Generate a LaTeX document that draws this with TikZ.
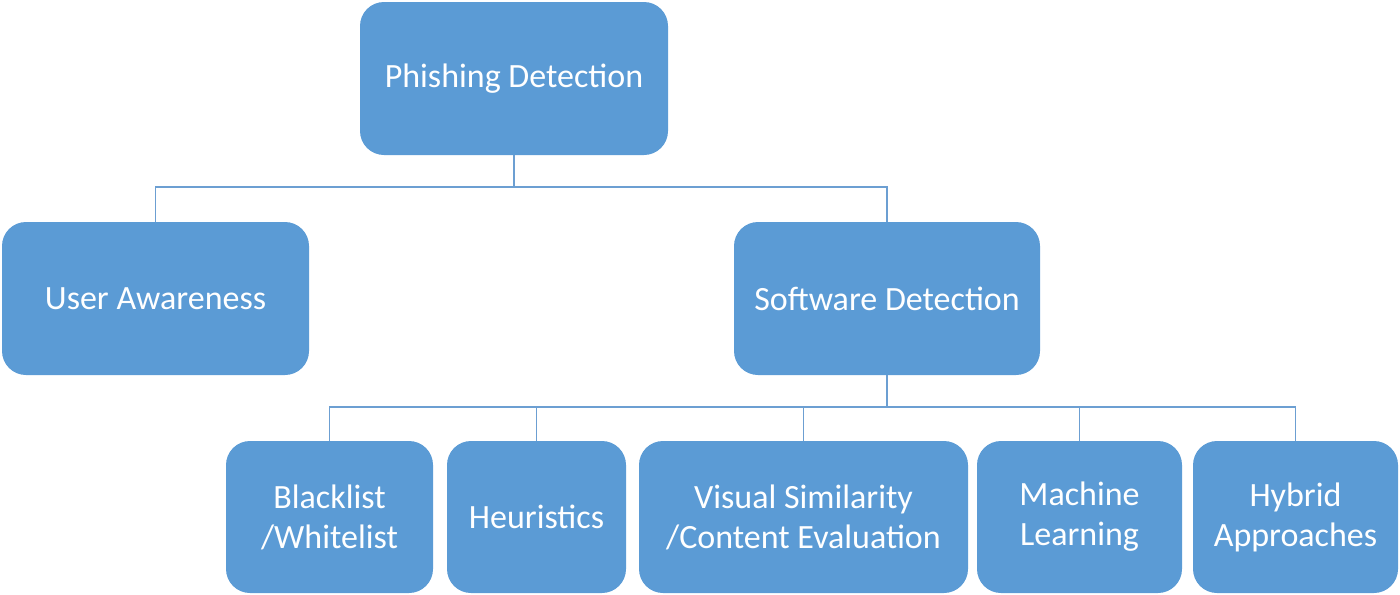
\documentclass[tikz,border=0pt]{standalone}
\usepackage{fontspec}
\setmainfont{Carlito}
\definecolor{boxblue}{HTML}{5B9BD5}
\definecolor{linkblue}{HTML}{6C9FD2}
\begin{document}
\begin{tikzpicture}[x=0.5pt,y=-0.5pt,
  box/.style={rectangle, rounded corners=12pt, fill=boxblue, draw=none,
    text=white, inner sep=0pt, align=center,
    font=\fontsize{17pt}{20pt}\selectfont},
  link/.style={draw=linkblue, line width=0.8pt}]
\useasboundingbox (0,0) rectangle (1400,594);

% top level
\node[box, minimum width=154pt, minimum height=76.5pt] (pd) at (514,78.5) {Phishing Detection};

% second level
\node[box, minimum width=153.5pt, minimum height=76.5pt] (ua) at (155.5,298.5) {User Awareness};
\node[box, minimum width=153pt, minimum height=76.5pt] (sd) at (887,298.5) {Software Detection};

% third level
\node[box, minimum width=103.5pt, minimum height=76pt] (bl) at (329.5,517) {Blacklist\\/Whitelist};
\node[box, minimum width=89.5pt, minimum height=76pt] (he) at (536.5,517) {Heuristics};
\node[box, minimum width=164.5pt, minimum height=76pt] (vs) at (803.5,517) {Visual Similarity\\/Content Evaluation};
\node[box, minimum width=102.5pt, minimum height=76pt] (ml) at (1079.5,517) {Machine\\Learning};
\node[box, minimum width=102.5pt, minimum height=76pt] (hy) at (1295.5,517) {Hybrid\\Approaches};

% connectors
\coordinate (busa) at (514,187);
\coordinate (busb) at (887,407);
\draw[link] (pd.south) -- (busa);
\draw[link] (ua.north) |- (busa) -| (sd.north);
\draw[link] (sd.south) -- (busb);
\draw[link] (bl.north) |- (busb) -| (hy.north);
\draw[link] (he.north) -- (he.north |- busb);
\draw[link] (vs.north) -- (vs.north |- busb);
\draw[link] (ml.north) -- (ml.north |- busb);
\end{tikzpicture}
\end{document}
